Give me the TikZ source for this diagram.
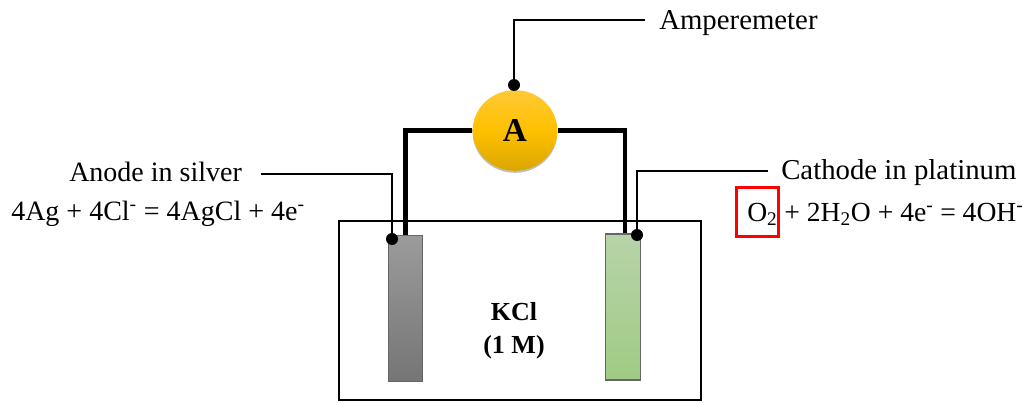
\documentclass[tikz,border=0pt]{standalone}
\usepackage{fontspec}
\setmainfont{Liberation Serif}
\usepackage{tikz}
\usetikzlibrary{shapes.geometric, shadows, positioning}
\definecolor{silvertop}{HTML}{9B9B9B}
\definecolor{silverbot}{HTML}{757575}
\definecolor{platintop}{HTML}{B7D4A8}
\definecolor{platinbot}{HTML}{9FCB84}
\definecolor{ampmid}{HTML}{FFC000}
\definecolor{amptop}{HTML}{FFC936}
\definecolor{ampbot}{HTML}{DBA600}
\tikzstyle{label} = [inner sep=0pt, font=\fontsize{21}{25}\selectfont]
\tikzstyle{widelabel} = [inner sep=0pt, font=\fontsize{21.6}{25}\selectfont]
\tikzstyle{plate} = [draw=black!60, line width=0.8pt, minimum width=25.5pt, minimum height=109.5pt, inner sep=0pt]
\tikzstyle{dot} = [circle, fill=black, minimum size=9pt, inner sep=0pt]
\tikzstyle{lead} = [line width=1.2pt]
\tikzstyle{wire} = [line width=3.4pt]
\newcommand{\elec}{\textsuperscript{-}}
\newcommand{\low}[1]{\textsubscript{#1}}

\begin{document}
\begin{tikzpicture}[x=0.75pt,y=-0.75pt]
  \useasboundingbox (0,0) rectangle (1028,403);
  \node[draw, line width=1.4pt, minimum width=272pt, minimum height=134pt, inner sep=0pt] (bath) at (520,310.5) {};
  \node[plate, top color=silvertop, bottom color=silverbot] (anode) at (405.75,308.7) {};
  \node[plate, top color=platintop, bottom color=platinbot, minimum width=26.5pt] (cathode) at (623.2,307) {};
  \node[ellipse, minimum width=63.5pt, minimum height=60.5pt, inner sep=0pt, top color=amptop, bottom color=ampbot, middle color=ampmid, drop shadow={shadow xshift=0pt, shadow yshift=-1.5pt, opacity=.5}] (amp) at (515,130.5) {\fontsize{25}{28}\selectfont\bfseries A};

  \node[widelabel, anchor=west] (amplabel) at (659,23) {Amperemeter};
  \node[label, anchor=west] (anodelabel) at (69,172) {Anode in silver};
  \node[label, anchor=west] (anodeeq) at (11,214) {4Ag + 4Cl\elec{} = 4AgCl + 4e\elec};
  \node[widelabel, anchor=west] (cathodelabel) at (781,173) {Cathode in platinum};
  \node[label, font=\fontsize{20.7}{25}\selectfont, anchor=west] (cathodeeq) at (747,214) {O\low{2} + 2H\low{2}O + 4e\elec{} = 4OH\elec};
  \node[draw=red, line width=2.4pt, minimum width=32pt, minimum height=37pt, inner sep=0pt] (redbox) at (757.5,212) {};
  \node[label, font=\fontsize{19.5}{24}\selectfont\bfseries, align=center] (kcl) at (514,331) {KCl\\[1pt](1 M)};

  \node[dot] (ampdot) at (514,85) {};
  \node[dot] (anodedot) at (392,239) {};
  \node[dot] (cathodedot) at (637,235) {};
  \coordinate (ampend) at (645,20);
  \coordinate (anodeend) at (261,174);
  \coordinate (cathodeend) at (768,171);

  \draw[wire] (amp.west) -| (anode.north);
  \draw[wire] (amp.east) -| ([xshift=1.4pt]cathode.north);
  \draw[lead] (ampdot) |- (ampend);
  \draw[lead] (anodeend) -| (anodedot);
  \draw[lead] (cathodeend) -| (cathodedot);
\end{tikzpicture}
\end{document}
